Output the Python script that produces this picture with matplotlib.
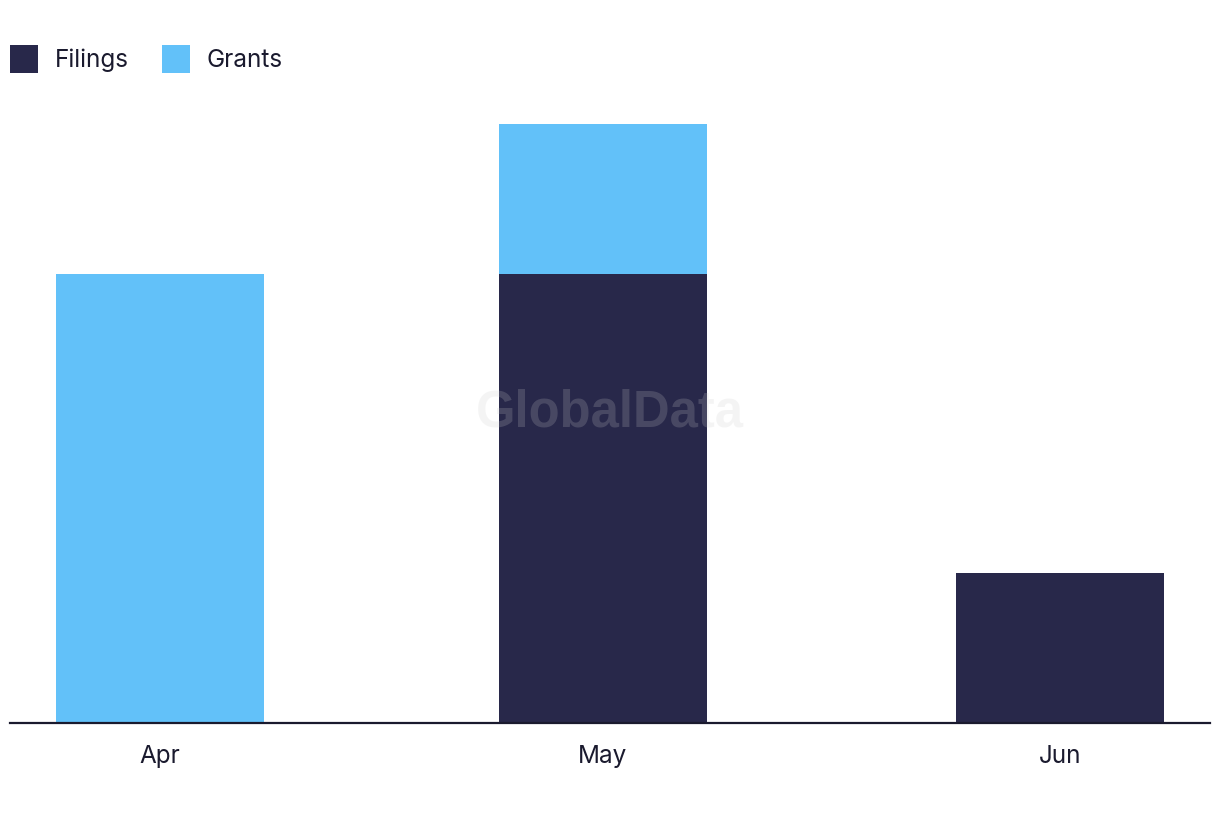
import matplotlib
matplotlib.use('Agg')
import matplotlib.pyplot as plt
import numpy as np
import datetime as dt

months = [dt.datetime(2024, 4, 15), dt.datetime(2024, 5, 15), dt.datetime(2024, 6, 15)]
month_labels = ['Apr', 'May', 'Jun']
filings = np.array([0, 3, 1])
grants = np.array([3, 1, 0])

navy = '#28284a'
sky = '#62c1f9'

plt.rcParams['font.family'] = ['Inter', 'DejaVu Sans']

fig = plt.figure(figsize=(12.2, 8.22), dpi=100)
ax = fig.add_axes([10/1220, 1 - 723/822, 1200/1220, 599/822])

width = dt.timedelta(days=14.1)
ax.bar(months, filings, width=width, color=navy, label='Filings')
ax.bar(months, grants, width=width, bottom=filings, color=sky, label='Grants')

pad = dt.timedelta(days=10.17)
ax.set_xlim(months[0] - pad, months[-1] + pad)
ax.set_ylim(0, 4)

ax.set_xticks(months)
ax.set_xticklabels(month_labels, fontsize=17.5, color='#1a1a2e')
ax.tick_params(axis='x', length=0, pad=16)
ax.set_yticks([])
for s in ['top', 'right', 'left']:
    ax.spines[s].set_visible(False)
ax.spines['bottom'].set_color('#1a1a2e')
ax.spines['bottom'].set_linewidth(1.6)
ax.spines['bottom'].set_zorder(5)

leg = fig.legend(loc='upper left', bbox_to_anchor=(10/1220, 1 - 45/822), ncol=2, frameon=False,
                 fontsize=17.5, handlelength=1.15, handleheight=1.4, handletextpad=0.68,
                 columnspacing=1.38, borderaxespad=0, borderpad=0)
for t in leg.get_texts():
    t.set_color('#1a1a2e')

fig.text(610/1220, 1 - 413/822, 'GlobalData', family='Liberation Sans', fontweight='bold',
         fontsize=36.5, color='#cccccc', alpha=0.2, ha='center', va='center')

fig.savefig('out.png', dpi=100)
